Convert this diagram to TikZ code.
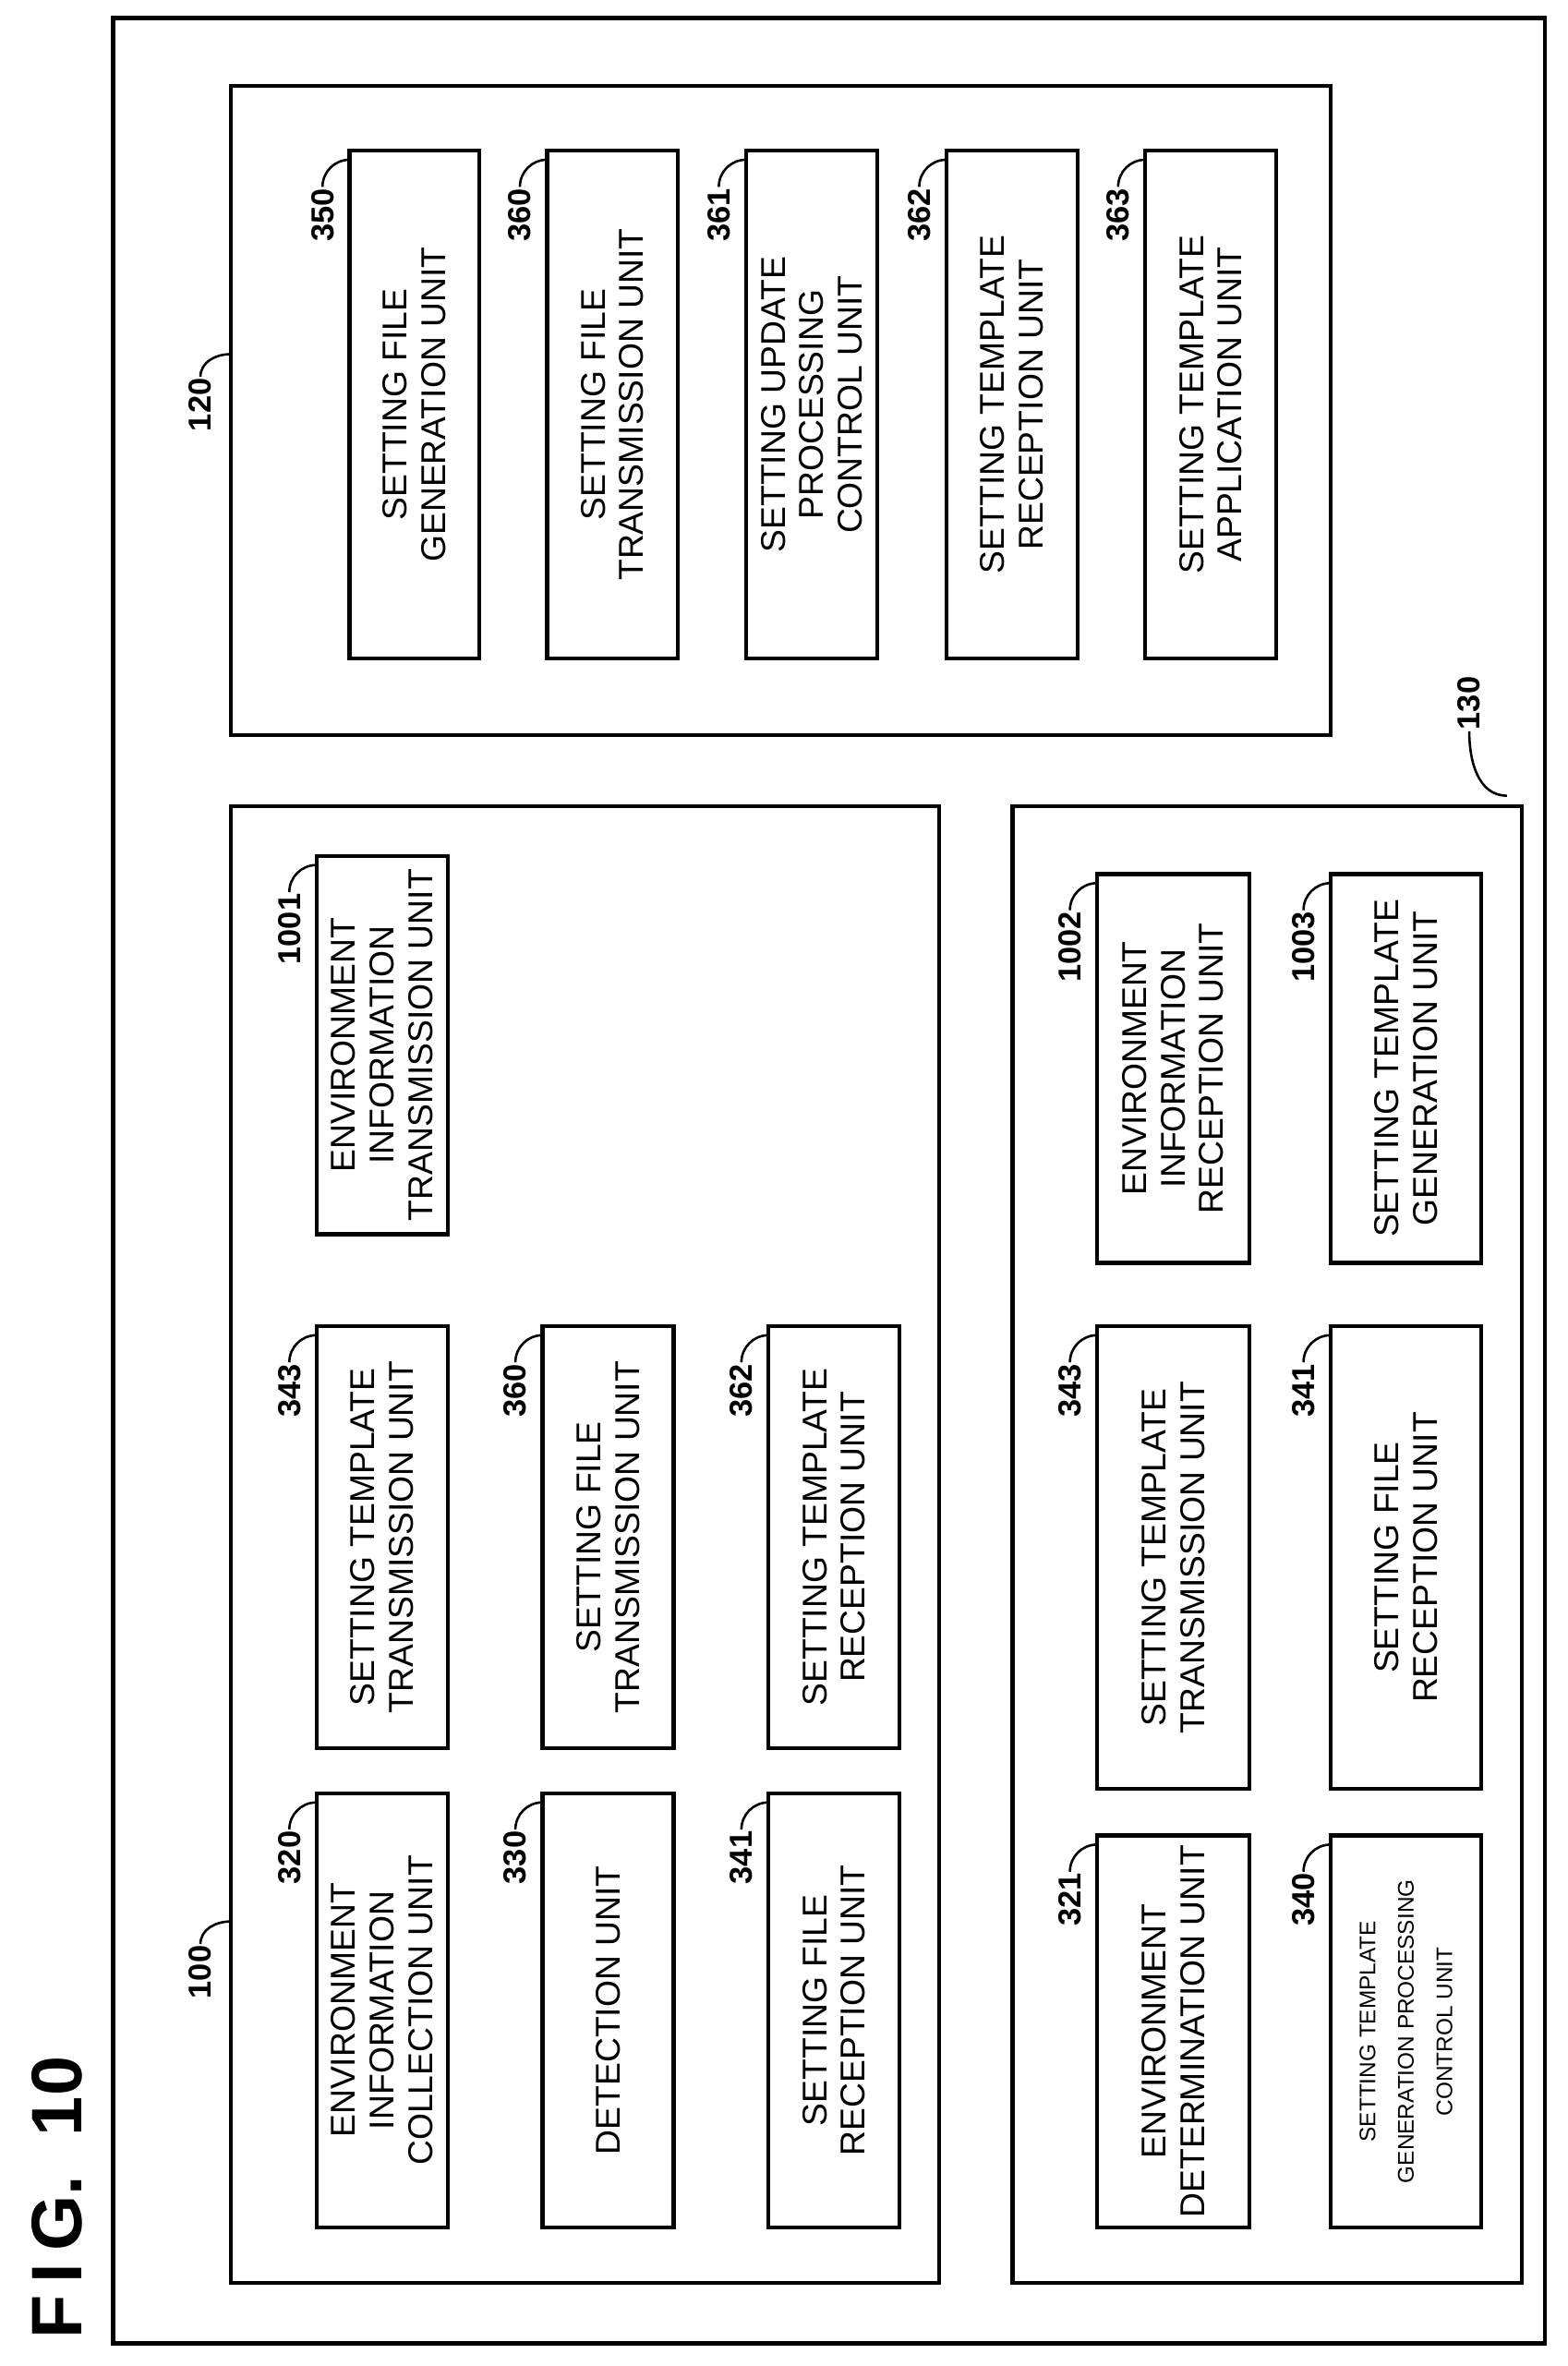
\documentclass[tikz,border=0pt]{standalone}
\usepackage{fontspec}
\setmainfont{Liberation Sans}
\tikzset{
  ubox/.style={draw, line width=3pt, rotate=90, align=center, inner sep=2pt,
    font=\fontsize{26}{29}\selectfont},
  numlbl/.style={rotate=90, anchor=east, inner sep=1pt, font=\fontsize{24}{26}\selectfont\bfseries},
  frame/.style={line width=3pt}
}
\newcommand\smallline{\fontsize{17}{24}\selectfont}
% unit box: name, x1, y1, x2, y2, text, number
\newcommand\unitbox[7]{%
  \node[ubox, minimum width={(#5-#3)*0.04cm}, minimum height={(#4-#2)*0.04cm}] (#1)
    at ({(#2+#4)/2},{-(#3+#5)/2}) {#6};
  \node[numlbl] (#1n) at ({#2-18},{-(#3+24)}) {#7};
  \draw[line width=1.8pt] (#1n.east) to[out=90,in=180] ({#2},{-(#3+6)});
}
\begin{document}
\begin{tikzpicture}[x=0.04cm, y=0.04cm]
    \useasboundingbox (0,0) rectangle (1040,-1570);
    % title
    \node[rotate=90, anchor=west, font=\fontsize{54}{60}\selectfont\bfseries] (fig) at (38,-1555) {F\,I\,G.\ \ 10};

    % outer frame and groups
    \draw[frame] (75,-12) rectangle (1025,-1555);
    \draw[frame] (153,-57) rectangle (883,-488);
    \draw[frame] (153,-535) rectangle (623,-1515);
    \draw[frame] (672,-535) rectangle (1010,-1515);
    \node[numlbl] (g120) at (133,-250) {120};
    \draw[line width=1.8pt] (g120.east) to[out=90,in=180] (153,-235);
    \node[numlbl] (g100) at (133,-1290) {100};
    \draw[line width=1.8pt] (g100.east) to[out=90,in=180] (153,-1275);
    \node[numlbl] (g130) at (975,-448) {130};
    \draw[line width=1.8pt] (g130.west) to[out=-90,in=180] (1000,-528);

    % units of 120
    \unitbox{u350}{232}{100}{318}{437}{SETTING FILE\\GENERATION UNIT}{350}
    \unitbox{u360}{363}{100}{450}{437}{SETTING FILE\\TRANSMISSION UNIT}{360}
    \unitbox{u361}{495}{100}{582}{437}{SETTING UPDATE\\PROCESSING\\CONTROL UNIT}{361}
    \unitbox{u362}{628}{100}{715}{437}{SETTING TEMPLATE\\RECEPTION UNIT}{362}
    \unitbox{u363}{760}{100}{847}{437}{SETTING TEMPLATE\\APPLICATION UNIT}{363}

    % units of 100
    \unitbox{a320}{210}{1190}{297}{1478}{ENVIRONMENT\\INFORMATION\\COLLECTION UNIT}{320}
    \unitbox{a343}{210}{880}{297}{1160}{SETTING TEMPLATE\\TRANSMISSION UNIT}{343}
    \unitbox{a1001}{210}{568}{297}{819}{ENVIRONMENT\\INFORMATION\\TRANSMISSION UNIT}{1001}
    \unitbox{a330}{360}{1190}{447}{1478}{DETECTION UNIT}{330}
    \unitbox{a360}{360}{880}{447}{1160}{SETTING FILE\\TRANSMISSION UNIT}{360}
    \unitbox{a341}{510}{1190}{597}{1478}{SETTING FILE\\RECEPTION UNIT}{341}
    \unitbox{a362}{510}{880}{597}{1160}{SETTING TEMPLATE\\RECEPTION UNIT}{362}

    % units of 130
    \unitbox{b321}{728}{1218}{829}{1478}{ENVIRONMENT\\DETERMINATION UNIT}{321}
    \unitbox{b343}{728}{880}{829}{1187}{SETTING TEMPLATE\\TRANSMISSION UNIT}{343}
    \unitbox{b1002}{728}{580}{829}{838}{ENVIRONMENT\\INFORMATION\\RECEPTION UNIT}{1002}
    \unitbox{b340}{883}{1218}{983}{1478}{\smallline SETTING TEMPLATE\\\smallline GENERATION PROCESSING\\\smallline CONTROL UNIT}{340}
    \unitbox{b341}{883}{880}{983}{1187}{SETTING FILE\\RECEPTION UNIT}{341}
    \unitbox{b1003}{883}{580}{983}{838}{SETTING TEMPLATE\\GENERATION UNIT}{1003}
\end{tikzpicture}
\end{document}
